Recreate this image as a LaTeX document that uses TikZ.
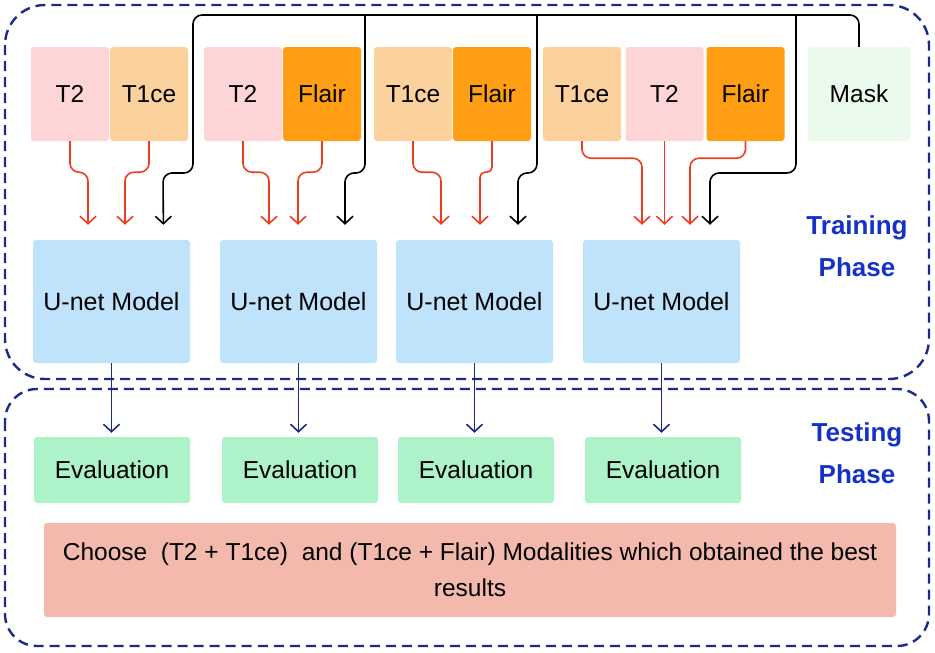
\documentclass[tikz,border=0pt]{standalone}
\usepackage{fontspec}
\setmainfont{Liberation Sans}
\usetikzlibrary{arrows.meta}

\definecolor{t2pink}{HTML}{FDD5D7}
\definecolor{t1ceorange}{HTML}{FBD29E}
\definecolor{flairorange}{HTML}{FF9E12}
\definecolor{maskgreen}{HTML}{EAFBEE}
\definecolor{unetblue}{HTML}{BEE3FB}
\definecolor{evalgreen}{HTML}{ADF2C8}
\definecolor{choosered}{HTML}{F4B9AD}
\definecolor{framenavy}{HTML}{1A2A8A}
\definecolor{phaseblue}{HTML}{1432C8}
\definecolor{modred}{HTML}{F03C1E}

\tikzset{
  modbox/.style={fill=#1, rounded corners=3pt, minimum width=78pt, minimum height=94pt,
    inner sep=0pt, font=\fontsize{24.5}{29}\selectfont},
  unetbox/.style={fill=unetblue, rounded corners=3pt, minimum width=157pt, minimum height=123pt,
    inner sep=0pt, font=\fontsize{25}{30}\selectfont},
  evalbox/.style={fill=evalgreen, rounded corners=3pt, minimum width=156pt, minimum height=66pt,
    inner sep=0pt, font=\fontsize{24.5}{29}\selectfont},
  phaseframe/.style={draw=framenavy, line width=2.4pt, dash pattern=on 10pt off 6pt},
  phaselabel/.style={text=phaseblue, align=center, font=\bfseries\fontsize{26}{42}\selectfont},
  modarrow/.style={draw=modred, line width=1.6pt, rounded corners=9pt, shorten >=15pt,
    -{Straight Barb[length=7.5pt,width=16pt]}},
  maskarrow/.style={draw=black, line width=1.6pt, rounded corners=9pt, shorten >=15pt,
    -{Straight Barb[length=7.5pt,width=16pt]}},
  testarrow/.style={draw=framenavy, line width=1.6pt, shorten >=4pt,
    -{Straight Barb[length=7.5pt,width=16pt]}},
}

\begin{document}
\begin{tikzpicture}[x=1pt,y=-1pt]
  \useasboundingbox (0,0) rectangle (935,653);

  % phase frames
  \draw[phaseframe, rounded corners=40pt] (5,5) rectangle (929,379);
  \draw[phaseframe, rounded corners=32pt] (5,389) rectangle (929,646);
  \node[phaselabel] (train) at (857,246) {Training\\Phase};
  \node[phaselabel] (test) at (857,453) {Testing\\Phase};

  % input modalities
  \node[modbox=t2pink] (t2a) at (70,94) {T2};
  \node[modbox=t1ceorange] (t1cea) at (149,94) {T1ce};
  \node[modbox=t2pink] (t2b) at (243,94) {T2};
  \node[modbox=flairorange] (flairb) at (322,94) {Flair};
  \node[modbox=t1ceorange] (t1cec) at (413,94) {T1ce};
  \node[modbox=flairorange] (flairc) at (492,94) {Flair};
  \node[modbox=t1ceorange] (t1ced) at (582,94) {T1ce};
  \node[modbox=t2pink] (t2d) at (664.5,94) {T2};
  \node[modbox=flairorange] (flaird) at (745.5,94) {Flair};
  \node[modbox=maskgreen, minimum width=102pt] (mask) at (859,94) {Mask};

  % models
  \node[unetbox] (unet1) at (111.5,301.5) {U-net Model};
  \node[unetbox] (unet2) at (298.5,301.5) {U-net Model};
  \node[unetbox] (unet3) at (474.5,301.5) {U-net Model};
  \node[unetbox] (unet4) at (661.5,301.5) {U-net Model};

  % evaluation
  \node[evalbox] (eval1) at (112,470) {Evaluation};
  \node[evalbox] (eval2) at (300,470) {Evaluation};
  \node[evalbox] (eval3) at (476,470) {Evaluation};
  \node[evalbox] (eval4) at (663,470) {Evaluation};

  \node[fill=choosered, rounded corners=3pt, minimum width=852pt, minimum height=94pt,
    inner sep=0pt, align=center, font=\fontsize{24.5}{36}\selectfont] (choose) at (470,570)
    {Choose\ \ (T2 + T1ce)\ \ and (T1ce + Flair) Modalities which obtained the best\\results};

  % modality inputs
  \draw[modarrow] (t2a.south) -- ++(0,31) -| ([xshift=-23.5pt]unet1.north);
  \draw[modarrow] (t1cea.south) -- ++(0,31) -| ([xshift=13.5pt]unet1.north);
  \draw[modarrow] (t2b.south) -- ++(0,31) -| ([xshift=-29.5pt]unet2.north);
  \draw[modarrow] (flairb.south) -- ++(0,31) -| ([xshift=-0.5pt]unet2.north);
  \draw[modarrow] (t1cec.south) -- ++(0,31) -| ([xshift=-33.5pt]unet3.north);
  \draw[modarrow, rounded corners=5pt] (flairc.south) -- ++(0,31) -| ([xshift=5.5pt]unet3.north);
  \draw[modarrow] (t1ced.south) -- ++(0,17) -| ([xshift=-19.5pt]unet4.north);
  \draw[modarrow] (t2d.south) -- (t2d.south |- unet4.north);
  \draw[modarrow] (flaird.south) -- ++(0,17) -| ([xshift=28.5pt]unet4.north);

  % mask bus
  \coordinate (b1) at (193,15);
  \coordinate (b2) at (365,15);
  \coordinate (b3) at (537,15);
  \coordinate (b4) at (796,15);
  \draw[maskarrow] (mask.north) |- (b1) |- (163,173) -- ([xshift=52pt]unet1.north);
  \draw[maskarrow] (b2) |- (345,173) -- ([xshift=46.5pt]unet2.north);
  \draw[maskarrow] (b3) |- (518,173) -- ([xshift=43.5pt]unet3.north);
  \draw[maskarrow] (b4) |- (710,173) -- ([xshift=48.5pt]unet4.north);

  % testing
  \draw[testarrow] (unet1.south) -- (eval1.north -| unet1.south);
  \draw[testarrow] (unet2.south) -- (eval2.north -| unet2.south);
  \draw[testarrow] (unet3.south) -- (eval3.north -| unet3.south);
  \draw[testarrow] (unet4.south) -- (eval4.north -| unet4.south);
\end{tikzpicture}
\end{document}
